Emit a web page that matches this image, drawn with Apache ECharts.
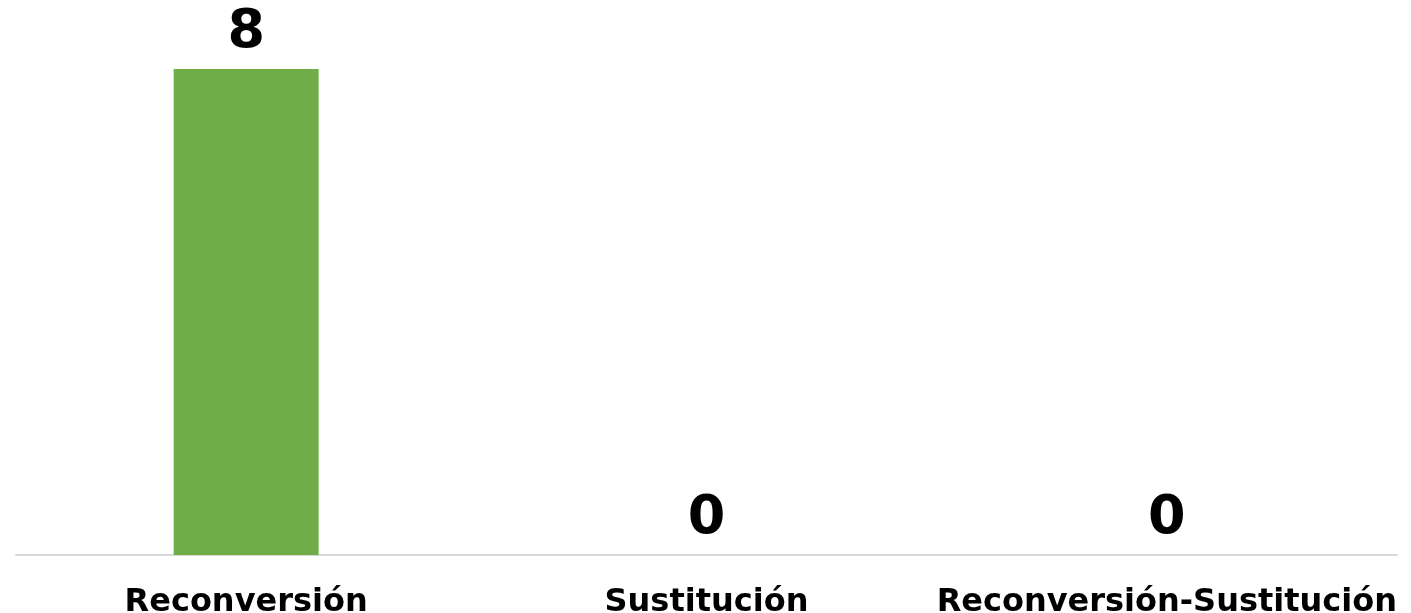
<!DOCTYPE html>
<html>
<head>
<meta charset="utf-8">
<script src="https://cdn.jsdelivr.net/npm/echarts@6/dist/echarts.min.js"></script>
<style>html,body{margin:0;padding:0;background:#fff;}#c{width:1411px;height:613px;}</style>
</head>
<body>
<div id="c"></div>
<script>
const categories = ['Reconversión', 'Sustitución', 'Reconversión-Sustitución'];
const values = [8, 0, 0];

const chart = echarts.init(document.getElementById('c'), null, {renderer: 'canvas'});
chart.setOption({
  animation: false,
  backgroundColor: '#ffffff',
  grid: {left: 16, right: 14, top: 69, bottom: 58, containLabel: false, outerBoundsMode: 'none'},
  xAxis: {
    type: 'category',
    data: categories,
    axisLine: {show: true, lineStyle: {color: '#d9d9d9', width: 2}},
    axisTick: {show: false},
    axisLabel: {
      margin: 32,
      color: '#000',
      fontFamily: 'DejaVu Sans',
      fontWeight: 'bold',
      fontSize: 32,
      interval: 0,
      hideOverlap: false
    }
  },
  yAxis: {
    type: 'value',
    min: 0,
    max: 8,
    show: false,
    splitLine: {show: false}
  },
  series: [{
    type: 'bar',
    data: values,
    barWidth: 145,
    itemStyle: {color: '#70ad47'},
    label: {
      show: true,
      position: 'top',
      distance: 9,
      color: '#000',
      fontFamily: 'DejaVu Sans',
      fontWeight: 'bold',
      fontSize: 54
    }
  }]
});
</script>
</body>
</html>
